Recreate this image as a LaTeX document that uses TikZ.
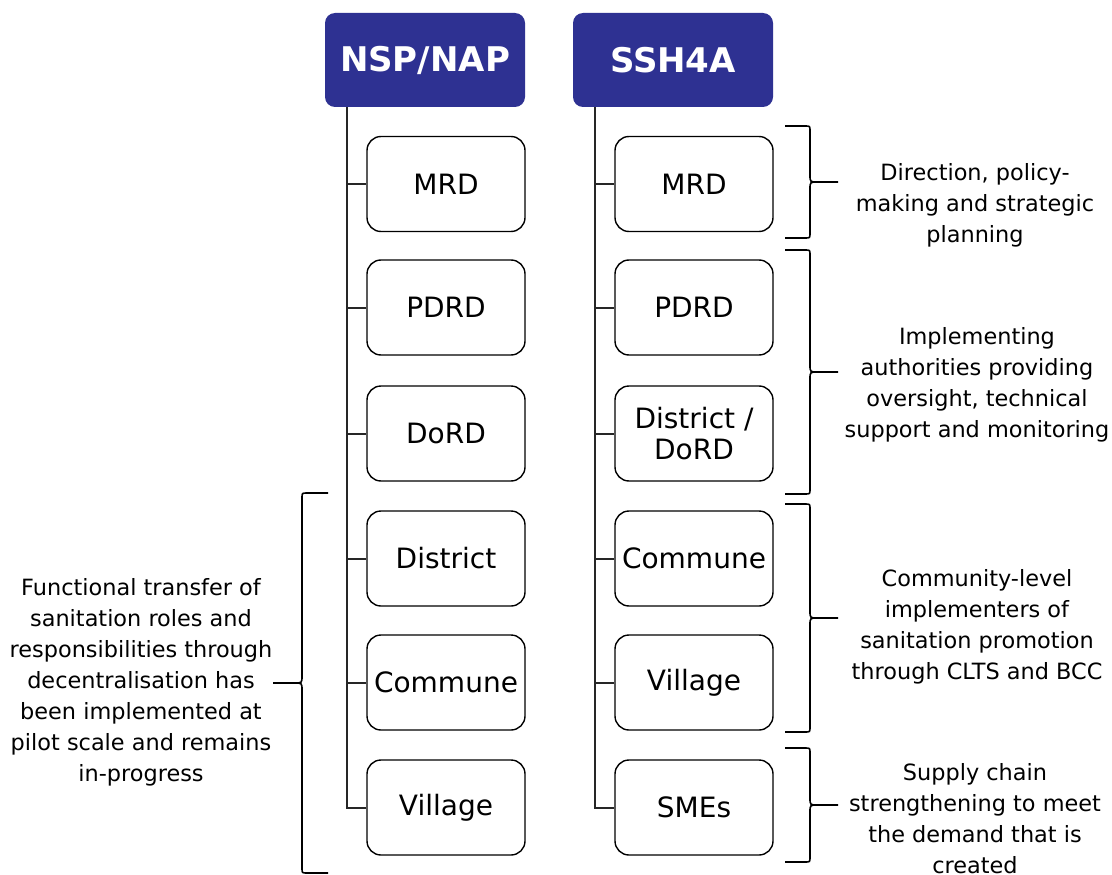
\documentclass[tikz,border=0pt]{standalone}
\usepackage{fontspec}
\setmainfont{DejaVu Sans}
\usetikzlibrary{calc}
\definecolor{hdrblue}{HTML}{2E3192}
% curly bracket: end x, spine x, top y, bottom y, tip x, direction (+1 right, -1 left)
\newcommand\curlybracket[6]{%
  \pgfmathsetmacro\curlymid{(#3+#4)/2}%
  \draw[curly] (#1,#3) -- ({#2-5*#6},#3) .. controls (#2,#3) .. (#2,{#3+5})
     -- (#2,{\curlymid-7}) .. controls (#2,\curlymid) .. ({#2+8*#6},\curlymid) -- (#5,\curlymid);
  \draw[curly] (#1,#4) -- ({#2-5*#6},#4) .. controls (#2,#4) .. (#2,{#4-5})
     -- (#2,{\curlymid+7}) .. controls (#2,\curlymid) .. ({#2+8*#6},\curlymid);
}
\begin{document}
\begin{tikzpicture}[x=1pt,y=-1pt,
  hdr/.style={fill=hdrblue, rounded corners=10pt, minimum width=200pt, minimum height=94pt,
    text=white, font=\fontsize{34}{36}\selectfont\bfseries},
  lvl/.style={draw=black, line width=1.4pt, rounded corners=14pt, minimum width=158pt,
    minimum height=95pt, align=center, font=\fontsize{28}{31}\selectfont, fill=white, inner sep=2pt},
  note/.style={align=center, font=\fontsize{22.4}{31}\selectfont},
  trunk/.style={draw=black!85, line width=2pt},
  curly/.style={draw=black, line width=1.6pt}]
\useasboundingbox (0,0) rectangle (1112,875);

% column headers
\node[hdr] (nsp) at (425,60) {NSP/NAP};
\node[hdr] (ssh) at (673,60) {SSH4A};

% left column
\node[lvl] (l1) at (446,184) {MRD};
\node[lvl] (l2) at (446,307.5) {PDRD};
\node[lvl] (l3) at (446,433.5) {DoRD};
\node[lvl] (l4) at (446,558.5) {District};
\node[lvl] (l5) at (446,682.5) {Commune};
\node[lvl] (l6) at (446,807.5) {Village};

% right column
\node[lvl] (r1) at (694,184) {MRD};
\node[lvl] (r2) at (694,307.5) {PDRD};
\node[lvl] (r3) at (694,433.5) {District /\\DoRD};
\node[lvl] (r4) at (694,558.5) {Commune};
\node[lvl] (r5) at (694,682.5) {Village};
\node[lvl] (r6) at (694,807.5) {SMEs};

% trunks and branches
\coordinate (lt) at ($(nsp.south west)+(22,0)$);
\coordinate (rt) at ($(ssh.south west)+(22,0)$);
\draw[trunk] (lt) |- (l6.west);
\foreach \b in {l1,l2,l3,l4,l5} \draw[trunk] (lt |- \b.west) -- (\b.west);
\draw[trunk] (rt) |- (r6.west);
\foreach \b in {r1,r2,r3,r4,r5} \draw[trunk] (rt |- \b.west) -- (\b.west);

% brackets
\curlybracket{785}{810}{126}{238}{838}{1}
\curlybracket{785}{810}{250}{494}{838}{1}
\curlybracket{785}{810}{504}{732}{838}{1}
\curlybracket{785}{810}{748}{862}{838}{1}
\curlybracket{328}{302}{493}{873}{273}{-1}

% descriptions
\node[note] (d1) at (975,205) {Direction, policy-\\making and strategic\\planning};
\node[note] (d2) at (977,385) {Implementing\\authorities providing\\oversight, technical\\support and monitoring};
\node[note] (d3) at (977,627) {Community-level\\implementers of\\sanitation promotion\\through CLTS and BCC};
\node[note] (d4) at (975,819) {Supply chain\\strengthening to meet\\the demand that is\\created};
\node[note] (dl) at (141,682) {Functional transfer of\\sanitation roles and\\responsibilities through\\decentralisation has\\been implemented at\\pilot scale and remains\\in-progress};
\end{tikzpicture}
\end{document}
